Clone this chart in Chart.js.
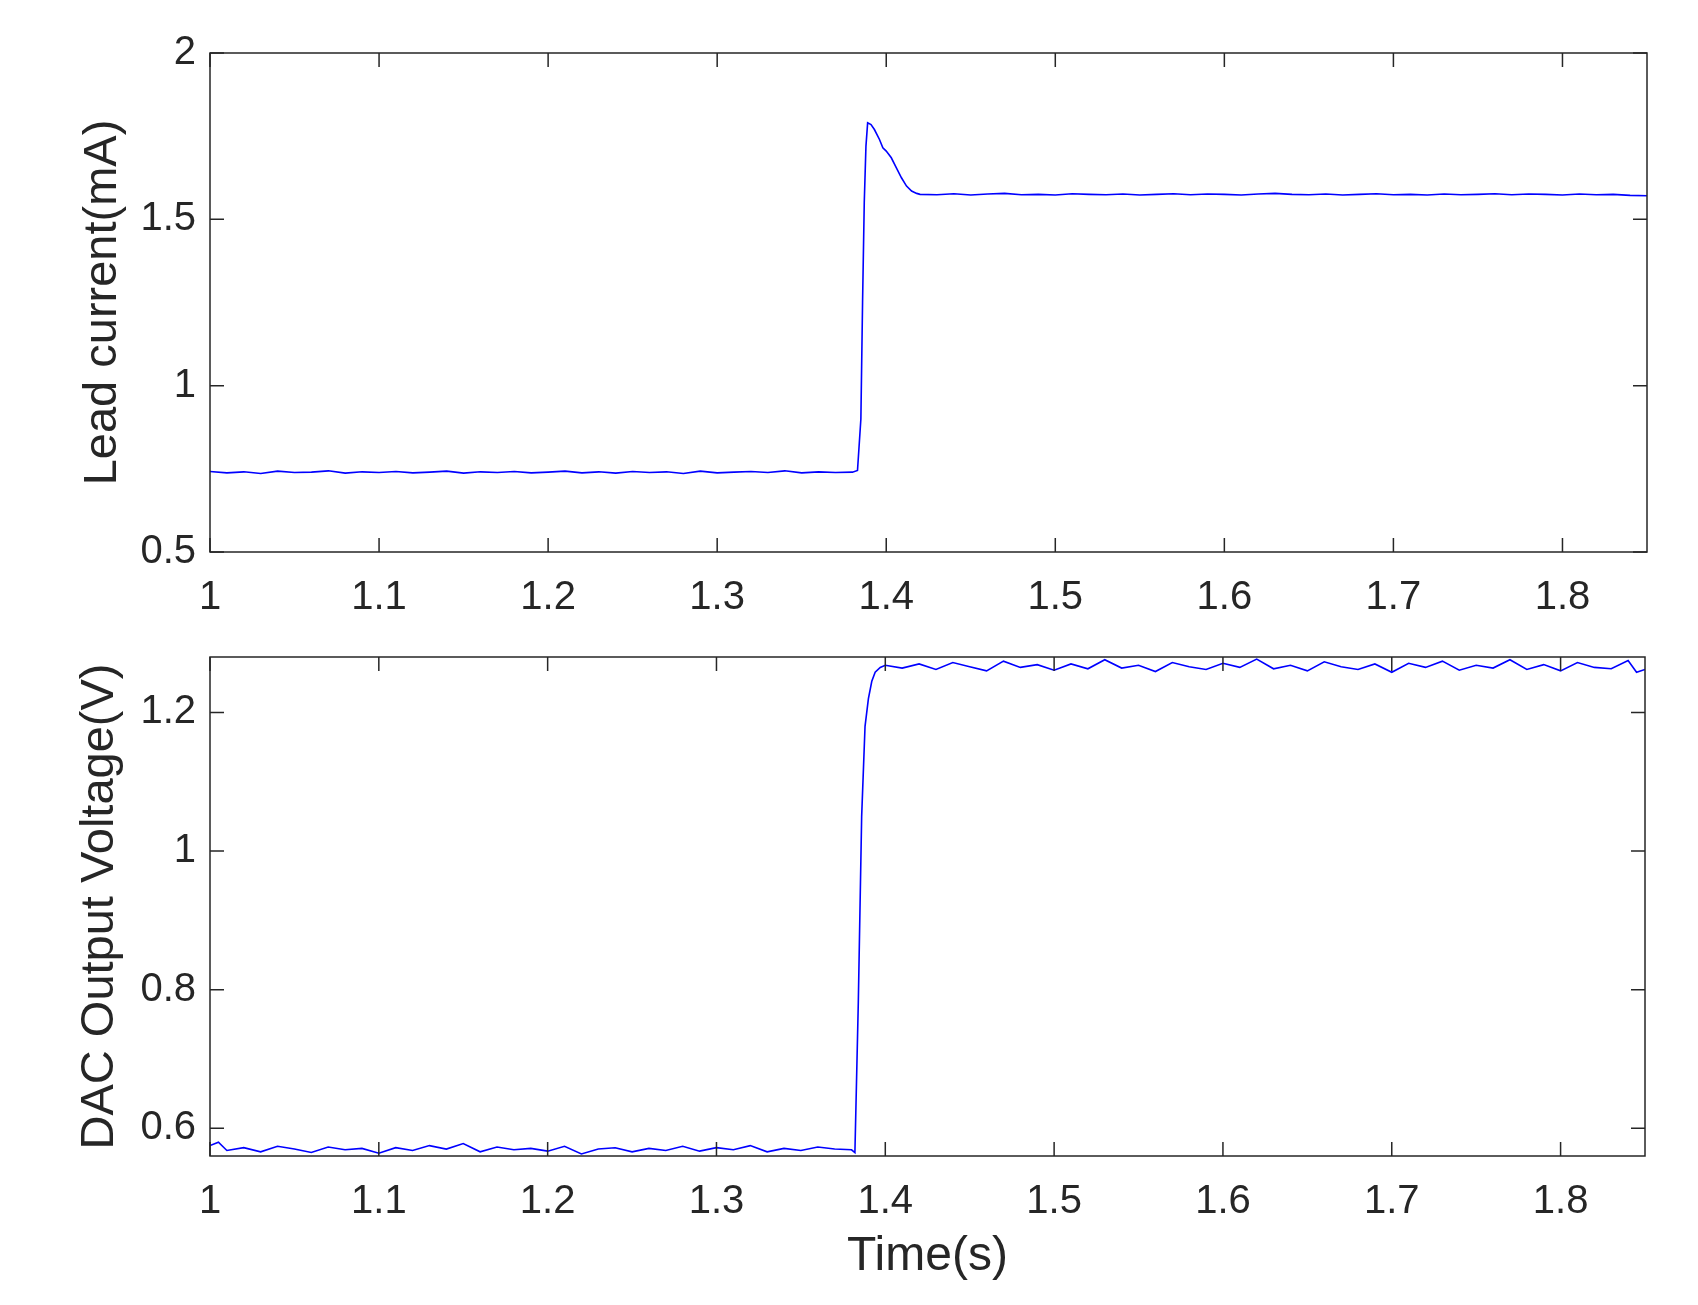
<!DOCTYPE html>
<html>
<head>
<meta charset="utf-8">
<script src="https://cdn.jsdelivr.net/npm/chart.js@4/dist/chart.umd.min.js"></script>
<style>
  body { margin: 0; background: #fff; }
  .box { position: absolute; left: 0; width: 1698px; }
</style>
</head>
<body>
<div class="box" style="top:0;height:630px"><canvas id="top"></canvas></div>
<div class="box" style="top:600px;height:705px"><canvas id="bottom"></canvas></div>
<script>
// time axis (s)
const xTicks = [1, 1.1, 1.2, 1.3, 1.4, 1.5, 1.6, 1.7, 1.8];

// lead current (mA)
const currentTime = [1.00,1.01,1.02,1.03,1.04,1.05,1.06,1.07,1.08,1.09,1.10,1.11,1.12,1.13,1.14,1.15,1.16,1.17,1.18,1.19,
  1.20,1.21,1.22,1.23,1.24,1.25,1.26,1.27,1.28,1.29,1.30,1.31,1.32,1.33,1.34,1.35,1.36,1.37,1.38,1.383,
  1.385,1.386,1.387,1.388,1.389,1.391,1.393,1.396,1.398,1.400,1.403,1.406,1.409,1.412,1.415,1.418,1.420,
  1.43,1.44,1.45,1.46,1.47,1.48,1.49,1.50,1.51,1.52,1.53,1.54,1.55,1.56,1.57,1.58,1.59,1.60,1.61,1.62,
  1.63,1.64,1.65,1.66,1.67,1.68,1.69,1.70,1.71,1.72,1.73,1.74,1.75,1.76,1.77,1.78,1.79,1.80,1.81,1.82,1.83,1.84,1.85];
const currentValue = [0.742,0.738,0.741,0.736,0.743,0.739,0.740,0.744,0.737,0.741,0.739,0.742,0.738,0.740,0.743,0.737,0.741,0.739,0.742,0.738,
  0.740,0.743,0.738,0.741,0.737,0.742,0.739,0.741,0.736,0.743,0.738,0.740,0.742,0.739,0.744,0.738,0.741,0.739,0.740,0.745,
  0.90,1.25,1.55,1.72,1.79,1.785,1.77,1.74,1.715,1.705,1.685,1.655,1.625,1.60,1.585,1.578,1.575,
  1.574,1.577,1.573,1.576,1.578,1.574,1.575,1.573,1.577,1.575,1.574,1.576,1.573,1.575,1.577,1.574,1.576,1.575,1.573,1.576,
  1.578,1.575,1.574,1.576,1.573,1.575,1.577,1.574,1.575,1.573,1.576,1.574,1.575,1.577,1.574,1.576,1.575,1.573,1.576,1.574,1.575,1.572,1.571];

// DAC output voltage (V)
const dacTime = [1.00,1.005,1.01,1.02,1.03,1.04,1.05,1.06,1.07,1.08,1.09,1.10,1.11,1.12,1.13,1.14,1.15,1.16,1.17,1.18,1.19,
  1.20,1.21,1.22,1.23,1.24,1.25,1.26,1.27,1.28,1.29,1.30,1.31,1.32,1.33,1.34,1.35,1.36,1.37,1.38,1.382,
  1.384,1.386,1.388,1.390,1.392,1.394,1.397,1.400,
  1.41,1.42,1.43,1.44,1.45,1.46,1.47,1.48,1.49,1.50,1.51,1.52,1.53,1.54,1.55,1.56,1.57,1.58,1.59,1.60,1.61,1.62,
  1.63,1.64,1.65,1.66,1.67,1.68,1.69,1.70,1.71,1.72,1.73,1.74,1.75,1.76,1.77,1.78,1.79,1.80,1.81,1.82,1.83,1.84,1.845,1.85];
const dacValue = [0.575,0.580,0.568,0.572,0.566,0.574,0.570,0.565,0.573,0.569,0.571,0.564,0.572,0.568,0.575,0.570,0.578,0.566,0.573,0.569,0.571,
  0.567,0.574,0.563,0.570,0.572,0.566,0.571,0.568,0.574,0.567,0.572,0.569,0.575,0.566,0.571,0.568,0.573,0.570,0.569,0.565,
  0.78,1.05,1.18,1.22,1.245,1.258,1.265,1.268,
  1.264,1.270,1.262,1.272,1.266,1.260,1.274,1.265,1.269,1.261,1.270,1.263,1.276,1.264,1.268,1.259,1.272,1.266,1.262,1.271,1.265,1.277,
  1.263,1.268,1.260,1.273,1.266,1.262,1.270,1.258,1.271,1.265,1.274,1.261,1.268,1.264,1.276,1.262,1.269,1.260,1.272,1.265,1.263,1.275,1.258,1.262];

const textColor = '#262626';
const fontFamily = 'Arial, "Liberation Sans", sans-serif';

function fmt(v) { return String(+(+v).toFixed(2)); }

// MATLAB style frame with inward ticks on all four sides
const framePlugin = {
  id: 'frame',
  afterDraw(chart, args, opts) {
    const ctx = chart.ctx, a = chart.chartArea;
    const xs = chart.scales.x, ys = chart.scales.y;
    ctx.save();
    ctx.strokeStyle = '#262626';
    ctx.lineWidth = 1.5;
    ctx.strokeRect(a.left, a.top, a.right - a.left, a.bottom - a.top);
    ctx.beginPath();
    const t = 14;
    xs.ticks.forEach(tk => {
      const px = xs.getPixelForValue(tk.value);
      ctx.moveTo(px, a.bottom); ctx.lineTo(px, a.bottom - t);
      ctx.moveTo(px, a.top); ctx.lineTo(px, a.top + t);
    });
    ys.ticks.forEach(tk => {
      const py = ys.getPixelForValue(tk.value);
      ctx.moveTo(a.left, py); ctx.lineTo(a.left + t, py);
      ctx.moveTo(a.right, py); ctx.lineTo(a.right - t, py);
    });
    ctx.stroke();
    ctx.fillStyle = textColor;
    ctx.textAlign = 'center';
    ctx.textBaseline = 'middle';
    ctx.font = '47px ' + fontFamily;
    ctx.translate(opts.yTitleX, (a.top + a.bottom) / 2);
    ctx.rotate(-Math.PI / 2);
    ctx.fillText(opts.yTitle, 0, 0);
    ctx.restore();
    if (opts.xTitle) {
      ctx.save();
      ctx.fillStyle = textColor;
      ctx.textAlign = 'center';
      ctx.textBaseline = 'middle';
      ctx.font = '48px ' + fontFamily;
      ctx.fillText(opts.xTitle, (a.left + a.right) / 2, opts.xTitleY);
      ctx.restore();
    }
  }
};

function makeChart(id, xs, ys, yMin, yMax, yTicks, pad, xAxisHeight, frameOpts) {
  const points = xs.map((x, i) => ({ x: x, y: ys[i] }));
  return new Chart(document.getElementById(id), {
    type: 'line',
    data: { datasets: [{ data: points, borderColor: '#0000ff', borderWidth: 1.6, pointRadius: 0, tension: 0, fill: false }] },
    options: {
      responsive: true,
      maintainAspectRatio: false,
      animation: false,
      layout: { padding: pad },
      plugins: { legend: { display: false }, tooltip: { enabled: false }, frame: frameOpts },
      scales: {
        x: {
          type: 'linear', min: 1, max: 1.85,
          afterBuildTicks: s => { s.ticks = xTicks.map(v => ({ value: v })); },
          afterFit: s => { s.height = xAxisHeight; },
          grid: { display: false, drawTicks: false },
          border: { display: false },
          ticks: { color: textColor, font: { size: 40, family: fontFamily }, padding: 22, maxRotation: 0, callback: fmt }
        },
        y: {
          min: yMin, max: yMax,
          afterBuildTicks: s => { s.ticks = yTicks.map(v => ({ value: v })); },
          afterFit: s => { s.width = 210; },
          grid: { display: false, drawTicks: false },
          border: { display: false },
          ticks: { color: textColor, font: { size: 40, family: fontFamily }, padding: 14, callback: fmt }
        }
      }
    },
    plugins: [framePlugin]
  });
}

makeChart('top', currentTime, currentValue, 0.5, 2, [0.5, 1, 1.5, 2],
  { top: 53, right: 51, left: 0, bottom: 0 }, 78,
  { yTitle: 'Lead current(mA)', yTitleX: 103 });

makeChart('bottom', dacTime, dacValue, 0.56, 1.28, [0.6, 0.8, 1, 1.2],
  { top: 57, right: 53, left: 0, bottom: 0 }, 149,
  { yTitle: 'DAC Output Voltage(V)', yTitleX: 100, xTitle: 'Time(s)', xTitleY: 657 });
</script>
</body>
</html>
